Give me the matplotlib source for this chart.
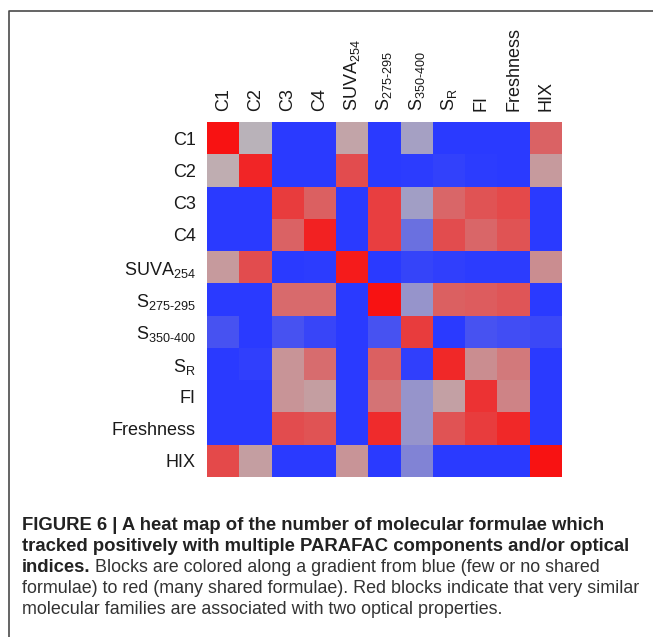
import numpy as np
import matplotlib
matplotlib.use("Agg")
import matplotlib.pyplot as plt
from matplotlib.colors import LinearSegmentedColormap
from matplotlib.lines import Line2D

plt.rcParams['font.family'] = ['Liberation Sans', 'DejaVu Sans']
plt.rcParams['mathtext.fontset'] = 'custom'
plt.rcParams['mathtext.rm'] = 'Liberation Sans'
plt.rcParams['mathtext.it'] = 'Liberation Sans:italic'
plt.rcParams['mathtext.bf'] = 'Liberation Sans:bold'

labels = ['C1', 'C2', 'C3', 'C4', r'SUVA$_{254}$', r'S$_{\text{275-295}}$',
          r'S$_{\text{350-400}}$', r'S$_{\text{R}}$', 'FI', 'Freshness', 'HIX']

# shared-formula intensity, 0 = blue (few), 1 = red (many)
row_C1 = [1.00, 0.49, 0.00, 0.00, 0.55, 0.00, 0.42, 0.00, 0.00, 0.00, 0.75]
row_C2 = [0.52, 0.94, 0.00, 0.00, 0.82, 0.00, 0.01, 0.03, 0.01, 0.00, 0.58]
row_C3 = [0.00, 0.00, 0.87, 0.76, 0.00, 0.86, 0.41, 0.74, 0.80, 0.83, 0.00]
row_C4 = [0.00, 0.00, 0.75, 0.95, 0.00, 0.86, 0.22, 0.82, 0.74, 0.80, 0.00]
row_SUVA = [0.58, 0.82, 0.00, 0.01, 0.97, 0.00, 0.04, 0.02, 0.01, 0.01, 0.62]
row_S275 = [0.00, 0.00, 0.73, 0.73, 0.00, 1.00, 0.37, 0.76, 0.77, 0.79, 0.00]
row_S350 = [0.10, 0.00, 0.10, 0.05, 0.00, 0.10, 0.87, 0.00, 0.10, 0.08, 0.06]
row_SR = [0.00, 0.02, 0.60, 0.72, 0.00, 0.76, 0.02, 0.93, 0.62, 0.68, 0.00]
row_FI = [0.00, 0.00, 0.60, 0.57, 0.00, 0.70, 0.37, 0.56, 0.90, 0.65, 0.00]
row_Fresh = [0.00, 0.00, 0.82, 0.80, 0.00, 0.92, 0.37, 0.80, 0.87, 0.93, 0.00]
row_HIX = [0.83, 0.57, 0.00, 0.00, 0.60, 0.00, 0.30, 0.00, 0.00, 0.00, 1.00]

data = np.array([row_C1, row_C2, row_C3, row_C4, row_SUVA, row_S275,
                 row_S350, row_SR, row_FI, row_Fresh, row_HIX])

cmap = LinearSegmentedColormap.from_list(
    'bgr', ['#2a3aff', '#bcb4b8', '#f81212'])

fig = plt.figure(figsize=(6.53, 6.37), dpi=100)
W, H = 653, 637
ax = fig.add_axes([207 / W, 1 - 477 / H, 355 / W, 355 / H])
ax.pcolormesh(data, cmap=cmap, vmin=0, vmax=1)
ax.set_xlim(0, 11)
ax.set_ylim(11, 0)
ax.set_xticks(np.arange(11) + 0.5)
ax.set_yticks(np.arange(11) + 0.5)
ax.set_xticklabels(labels, rotation=90, fontsize=13, color='#1a1a1a')
ax.set_yticklabels(labels, fontsize=13, color='#1a1a1a')
ax.xaxis.tick_top()
ax.tick_params(length=0, pad=8)
for s in ax.spines.values():
    s.set_visible(False)

# frame around figure (left and top edges)
fig.add_artist(Line2D([8.5 / W, 8.5 / W, 1.0], [0.0, 1 - 10.5 / H, 1 - 10.5 / H],
                      transform=fig.transFigure, color='#4a4a4a', lw=1.2))

# caption
x0 = 22 / W
bold_kw = dict(fontsize=13.3, fontweight='bold', color='#222222', va='baseline')
reg_kw = dict(fontsize=12.9, color='#333333', va='baseline')
base = [530, 551, 572, 593, 614]
fig.text(x0, 1 - base[0] / H, 'FIGURE 6 | A heat map of the number of molecular formulae which', **bold_kw)
fig.text(x0, 1 - base[1] / H, 'tracked positively with multiple PARAFAC components and/or optical', **bold_kw)
t3 = fig.text(x0, 1 - base[2] / H, 'indices.', **bold_kw)
ann = fig.text(0, 0, ' Blocks are colored along a gradient from blue (few or no shared', **reg_kw)
fig.canvas.draw()
bb = t3.get_window_extent()
ann.set_position((bb.x1 / W, 1 - base[2] / H))
fig.text(x0, 1 - base[3] / H, 'formulae) to red (many shared formulae). Red blocks indicate that very similar', **reg_kw)
fig.text(x0, 1 - base[4] / H, 'molecular families are associated with two optical properties.', **reg_kw)

fig.savefig('out.png', dpi=100)
